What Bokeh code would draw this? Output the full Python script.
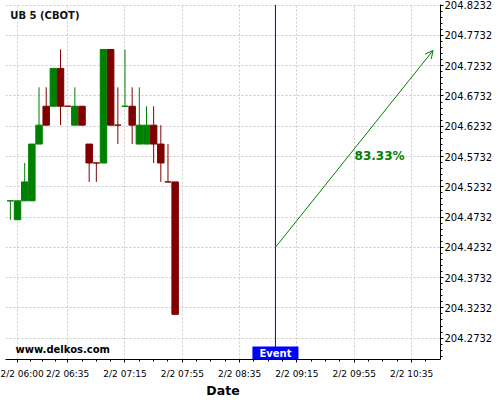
from bokeh.plotting import figure
from bokeh.models import (Range1d, FixedTicker, NumeralTickFormatter, Span, Label,
                          Arrow, OpenHead, ColumnDataSource)
from bokeh.embed import file_html
from bokeh.resources import INLINE

# ---- data (5-minute candles, 2/2) ----
times = ["05:55", "06:00", "06:05", "06:10", "06:15", "06:20", "06:25", "06:30",
         "06:35", "06:40", "06:45", "06:50", "06:55", "07:00", "07:05", "07:10",
         "07:15", "07:20", "07:25", "07:30", "07:35", "07:40", "07:45", "07:50"]
opens = [204.5, 204.46875, 204.5, 204.5, 204.59375, 204.65625, 204.65625, 204.71875,
         204.65625, 204.625, 204.65625, 204.59375, 204.5625, 204.5625, 204.75, 204.625,
         204.65625, 204.65625, 204.59375, 204.59375, 204.625, 204.59375, 204.53125, 204.53125]
highs = [204.5, 204.5, 204.5625, 204.59375, 204.6875, 204.6875, 204.71875, 204.75,
         204.65625, 204.6875, 204.65625, 204.59375, 204.5625, 204.75, 204.75, 204.6875,
         204.75, 204.6875, 204.6875, 204.65625, 204.65625, 204.625, 204.59375, 204.53125]
lows = [204.46875, 204.46875, 204.5, 204.5, 204.59375, 204.625, 204.65625, 204.625,
        204.65625, 204.625, 204.625, 204.53125, 204.53125, 204.5625, 204.625, 204.59375,
        204.65625, 204.59375, 204.59375, 204.59375, 204.5625, 204.53125, 204.53125, 204.3125]
closes = [204.5, 204.5, 204.53125, 204.59375, 204.625, 204.625, 204.71875, 204.65625,
          204.65625, 204.65625, 204.625, 204.5625, 204.5625, 204.75, 204.625, 204.625,
          204.65625, 204.625, 204.625, 204.625, 204.59375, 204.5625, 204.53125, 204.3125]
direction = ["up", "up", "up", "up", "up", "down", "up", "down",
             "down", "up", "down", "down", "down", "up", "down", "down",
             "up", "down", "up", "up", "down", "down", "down", "down"]

x_tick_times = ["06:00", "06:35", "07:15", "07:55", "08:35", "09:15", "09:55", "10:35"]
x_tick_labels = ["2/2 06:00", "2/2 06:35", "2/2 07:15", "2/2 07:55",
                 "2/2 08:35", "2/2 09:15", "2/2 09:55", "2/2 10:35"]
y_ticks = [204.2732, 204.3232, 204.3732, 204.4232, 204.4732, 204.5232,
           204.5732, 204.6232, 204.6732, 204.7232, 204.7732, 204.8232]

event_time = "09:00"
forecast_start_price = 204.4232
forecast_end_time = "10:50"
forecast_end_price = 204.7484
forecast_text = "83.33%"
title_text = "UB 5 (CBOT)"
site_text = "www.delkos.com"


def to_min(s):
    h, m = s.split(":")
    return int(h) * 60 + int(m)


GREEN = "#008000"
RED = "#800000"

xs = [to_min(t) for t in times]
colors = [GREEN if d == "up" else RED for d in direction]
src = ColumnDataSource(dict(
    x=xs, top=[max(o, c) for o, c in zip(opens, closes)],
    bottom=[min(o, c) for o, c in zip(opens, closes)],
    high=highs, low=lows, color=colors))

x_start, x_end = 351.6, 655.2
y_start, y_end = 204.2379, 204.8243

p = figure(width=500, height=400, output_backend="svg", toolbar_location=None,
           x_range=Range1d(x_start, x_end), y_range=Range1d(y_start, y_end),
           y_axis_location="right", min_border_left=5, min_border_top=4,
           min_border_right=60, min_border_bottom=36, outline_line_color=None,
           background_fill_color="white", border_fill_color="white")

# ticks
major_x = [to_min(t) for t in x_tick_times]
minor_x = []
for a, b in zip(major_x[:-1], major_x[1:]):
    minor_x += [a + (b - a) * k / 4 for k in range(1, 4)]
minor_x.append(major_x[-1] + 10)
p.xaxis.ticker = FixedTicker(ticks=major_x, minor_ticks=minor_x)
p.xaxis.major_label_overrides = {m: l for m, l in zip(major_x, x_tick_labels)}
minor_y = [round(y_ticks[0] - 0.03 + 0.01 * k, 4) for k in range(0, 60)]
p.yaxis.ticker = FixedTicker(ticks=y_ticks, minor_ticks=minor_y)
p.yaxis.formatter = NumeralTickFormatter(format="0.0000")

for ax in (p.xaxis[0], p.yaxis[0]):
    ax.axis_line_color = "black"
    ax.major_tick_line_color = "black"
    ax.minor_tick_line_color = "black"
    ax.major_tick_out = 3
    ax.major_tick_in = 0
    ax.minor_tick_out = 2
    ax.minor_tick_in = 0
    ax.major_label_text_font = "DejaVu Sans"
    ax.major_label_text_color = "black"
p.yaxis.major_label_text_font_size = "10px"
p.xaxis.major_label_text_font_size = "9px"
p.yaxis.major_label_standoff = 1
p.xaxis.major_label_standoff = 6
p.xaxis.axis_label = "Date"
p.xaxis.axis_label_text_font = "DejaVu Sans"
p.xaxis.axis_label_text_font_size = "12.5px"
p.xaxis.axis_label_text_font_style = "bold"
p.xaxis.axis_label_text_color = "black"
p.xaxis.axis_label_standoff = 1

p.grid.grid_line_color = "#cccccc"
p.grid.grid_line_dash = "2 2"

# candles
p.segment(x0="x", y0="low", x1="x", y1="high", color="color", line_width=1, source=src)
p.vbar(x="x", width=4.5, top="top", bottom="bottom", fill_color="color",
       line_color="color", line_width=1, source=src)

# event
ev = to_min(event_time)
p.add_layout(Span(location=ev, dimension="height", line_color="blue", line_width=1))
p.add_layout(Label(x=ev, y=y_start, text="Event", text_align="center", text_baseline="bottom",
                   text_color="white", text_font="DejaVu Sans", text_font_size="10px",
                   text_font_style="bold", background_fill_color="blue", padding=(7, 1)))

# forecast arrow
p.add_layout(Arrow(end=OpenHead(size=8, line_color=GREEN, line_width=1),
                   x_start=ev, y_start=forecast_start_price,
                   x_end=to_min(forecast_end_time), y_end=forecast_end_price,
                   line_color=GREEN, line_width=1))
p.add_layout(Label(x=595.2, y=204.574, text=forecast_text, text_align="left",
                   text_baseline="middle", text_color=GREEN, text_font="DejaVu Sans",
                   text_font_size="12px", text_font_style="bold"))

p.add_layout(Label(x=355, y=204.806, text=title_text, text_align="left",
                   text_baseline="middle", text_color="#111111", text_font="DejaVu Sans",
                   text_font_size="10px", text_font_style="bold"))
p.add_layout(Label(x=358.6, y=204.2542, text=site_text, text_align="left",
                   text_baseline="middle", text_color="black", text_font="DejaVu Sans",
                   text_font_size="10px", text_font_style="bold"))

open("out.html", "w").write(file_html(p, INLINE))
